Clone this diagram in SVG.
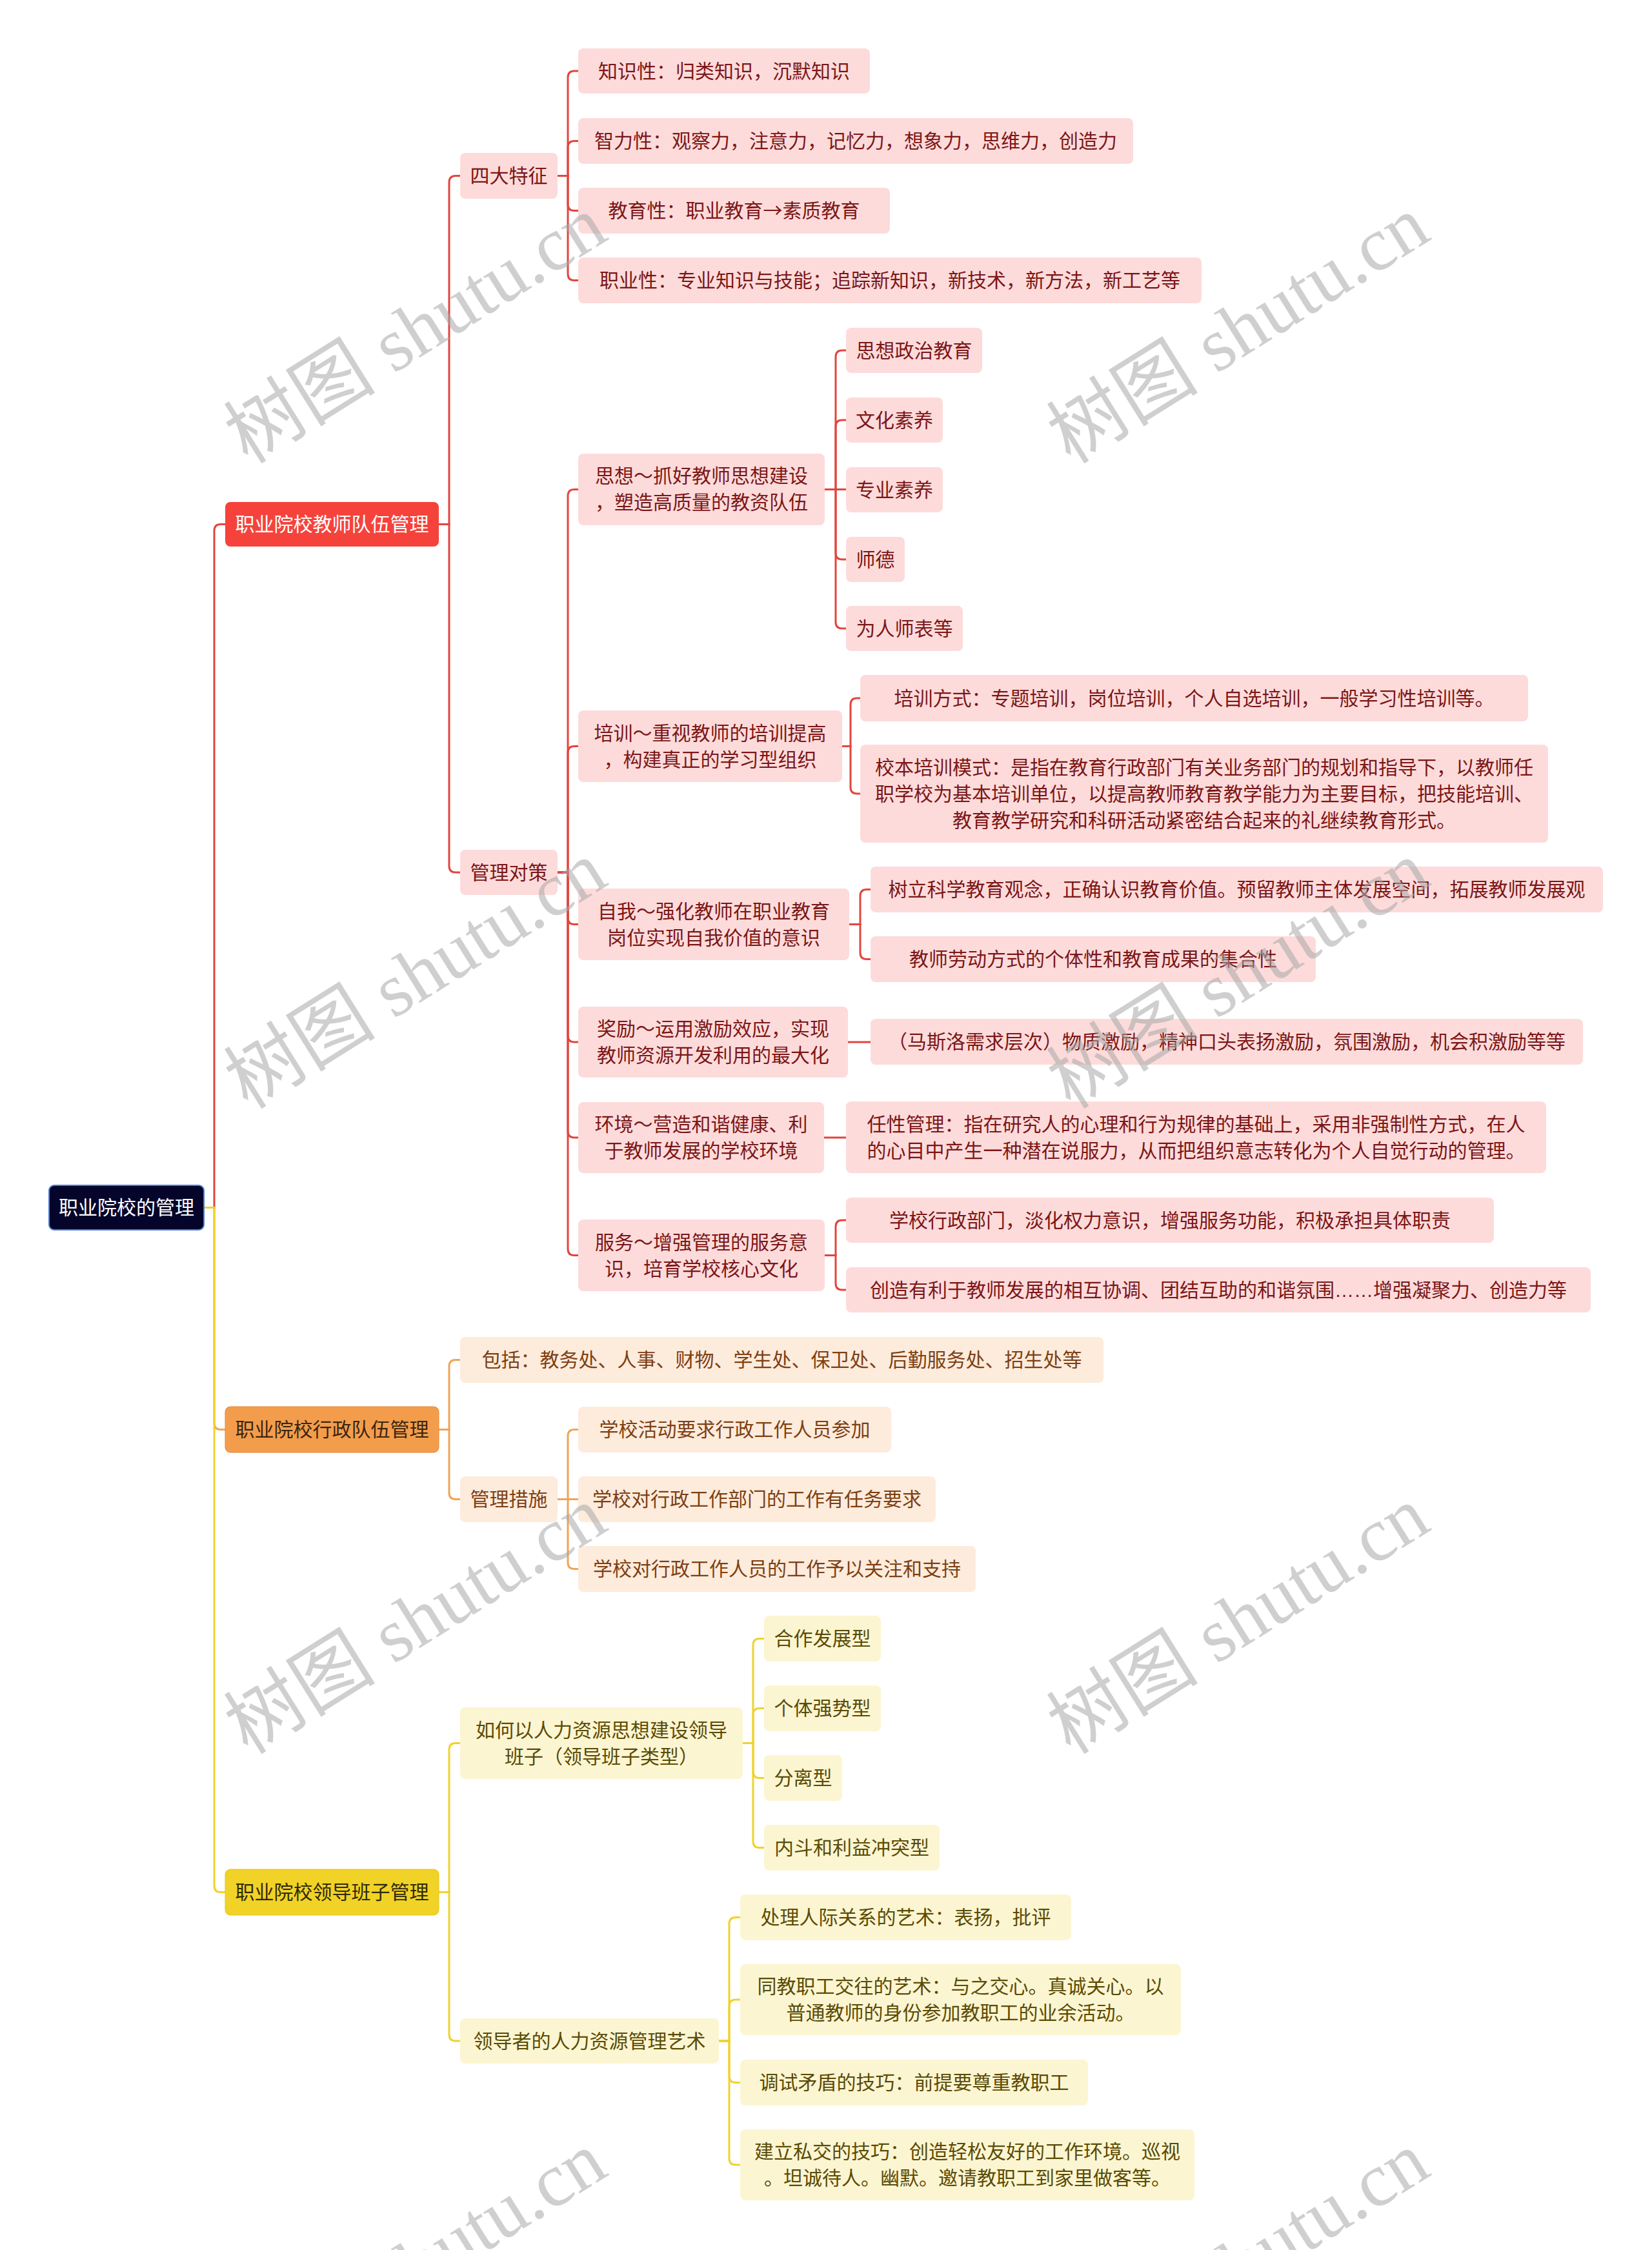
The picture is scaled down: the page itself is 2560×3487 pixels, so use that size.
<svg xmlns="http://www.w3.org/2000/svg" width="2560" height="3487" viewBox="0 0 2560 3487">
<style>
text{font-family:"Liberation Sans","Noto Sans CJK SC",sans-serif;font-size:30px;text-anchor:middle}
.cjk{font-family:"Noto Sans CJK SC",sans-serif}
.root rect{fill:#05052c;stroke:#4d7fd6;stroke-width:2}
.root text{fill:#ffffff}
.l1r rect{fill:#f5433c}
.l1r text{fill:#ffffff}
.l1o rect{fill:#f39d4c;stroke:#e8893a;stroke-width:1}
.l1o text{fill:#3a2510}
.l1y rect{fill:#f1d226;stroke:#e6c41a;stroke-width:1}
.l1y text{fill:#2f2a08}
.r rect{fill:#fddbdb}
.r text{fill:#7c1616}
.o rect{fill:#fdebdc}
.o text{fill:#7d3f12}
.y rect{fill:#fcf5d1}
.y text{fill:#5a4b05}
.cr{fill:none;stroke:#e2453f;stroke-width:3}
.co{fill:none;stroke:#f0a457;stroke-width:3}
.cy{fill:none;stroke:#f0d22c;stroke-width:3}
.wm{font-family:"Liberation Serif","Noto Sans CJK SC",serif;font-size:118px;fill:#a8a8a8;fill-opacity:0.55;text-anchor:middle}
</style>

<g id="connectors">
  <g id="c-red">
    <path class="cr" d="M316,1871.5 H332 V822.5 Q332,812.5 342,812.5 H349"/>
    <path class="cr" d="M680,812.5 H696 V282.5 Q696,272.5 706,272.5 H713"/>
    <path class="cr" d="M680,812.5 H696 V1342 Q696,1352 706,1352 H713"/>
    <path class="cr" d="M864,272.5 H880 V120 Q880,110 890,110 H896"/>
    <path class="cr" d="M864,272.5 H880 V228.5 Q880,218.5 890,218.5 H896"/>
    <path class="cr" d="M864,272.5 H880 V316.5 Q880,326.5 890,326.5 H896"/>
    <path class="cr" d="M864,272.5 H880 V424.5 Q880,434.5 890,434.5 H896"/>
    <path class="cr" d="M864,1352 H880 V768.5 Q880,758.5 890,758.5 H896"/>
    <path class="cr" d="M864,1352 H880 V1166.5 Q880,1156.5 890,1156.5 H896"/>
    <path class="cr" d="M864,1352 H880 V1422.5 Q880,1432.5 890,1432.5 H896"/>
    <path class="cr" d="M864,1352 H880 V1605 Q880,1615 890,1615 H896"/>
    <path class="cr" d="M864,1352 H880 V1753 Q880,1763 890,1763 H896"/>
    <path class="cr" d="M864,1352 H880 V1935.5 Q880,1945.5 890,1945.5 H896"/>
    <path class="cr" d="M1278,758.5 H1295 V553 Q1295,543 1305,543 H1311"/>
    <path class="cr" d="M1278,758.5 H1295 V661 Q1295,651 1305,651 H1311"/>
    <path class="cr" d="M1278,758.5 H1311"/>
    <path class="cr" d="M1278,758.5 H1295 V857 Q1295,867 1305,867 H1311"/>
    <path class="cr" d="M1278,758.5 H1295 V964 Q1295,974 1305,974 H1311"/>
    <path class="cr" d="M1305,1156.5 H1318 V1092 Q1318,1082 1328,1082 H1333"/>
    <path class="cr" d="M1305,1156.5 H1318 V1220 Q1318,1230 1328,1230 H1333"/>
    <path class="cr" d="M1316,1432.5 H1333 V1388.5 Q1333,1378.5 1343,1378.5 H1349"/>
    <path class="cr" d="M1316,1432.5 H1333 V1476.5 Q1333,1486.5 1343,1486.5 H1349"/>
    <path class="cr" d="M1314,1615 H1349"/>
    <path class="cr" d="M1277,1763 H1311"/>
    <path class="cr" d="M1278,1945.5 H1295 V1901 Q1295,1891 1305,1891 H1311"/>
    <path class="cr" d="M1278,1945.5 H1295 V1989 Q1295,1999 1305,1999 H1311"/>
  </g>
  <g id="c-orange">
    <path class="co" d="M316,1871.5 H332 V2205.5 Q332,2215.5 342,2215.5 H349"/>
    <path class="co" d="M680,2215.5 H696 V2117.5 Q696,2107.5 706,2107.5 H713"/>
    <path class="co" d="M680,2215.5 H696 V2313.5 Q696,2323.5 706,2323.5 H713"/>
    <path class="co" d="M864,2323.5 H880 V2225.5 Q880,2215.5 890,2215.5 H896"/>
    <path class="co" d="M864,2323.5 H896"/>
    <path class="co" d="M864,2323.5 H880 V2421.5 Q880,2431.5 890,2431.5 H896"/>
  </g>
  <g id="c-yellow">
    <path class="cy" d="M316,1871.5 H332 V2922.5 Q332,2932.5 342,2932.5 H349"/>
    <path class="cy" d="M680,2932.5 H696 V2711.5 Q696,2701.5 706,2701.5 H713"/>
    <path class="cy" d="M680,2932.5 H696 V3153 Q696,3163 706,3163 H713"/>
    <path class="cy" d="M1151,2701.5 H1167 V2549.5 Q1167,2539.5 1177,2539.5 H1184"/>
    <path class="cy" d="M1151,2701.5 H1167 V2657.5 Q1167,2647.5 1177,2647.5 H1184"/>
    <path class="cy" d="M1151,2701.5 H1167 V2745.5 Q1167,2755.5 1177,2755.5 H1184"/>
    <path class="cy" d="M1151,2701.5 H1167 V2853.5 Q1167,2863.5 1177,2863.5 H1184"/>
    <path class="cy" d="M1114,3163 H1130 V2981.5 Q1130,2971.5 1140,2971.5 H1147"/>
    <path class="cy" d="M1114,3163 H1130 V3109 Q1130,3099 1140,3099 H1147"/>
    <path class="cy" d="M1114,3163 H1130 V3217.5 Q1130,3227.5 1140,3227.5 H1147"/>
    <path class="cy" d="M1114,3163 H1130 V3345 Q1130,3355 1140,3355 H1147"/>
  </g>
</g>

<g id="root" class="root"><rect x="76" y="1837" width="240" height="69" rx="8"/><text x="196" y="1882">职业院校的管理</text></g>

<g id="n-teacher" class="l1r"><rect x="349" y="778" width="331" height="69" rx="8"/><text x="514.5" y="823">职业院校教师队伍管理</text></g>
<g id="n-admin" class="l1o"><rect x="349" y="2180" width="331" height="71" rx="8"/><text x="514.5" y="2226">职业院校行政队伍管理</text></g>
<g id="n-leader" class="l1y"><rect x="349" y="2897" width="331" height="71" rx="8"/><text x="514.5" y="2943">职业院校领导班子管理</text></g>

<g id="n-four" class="r"><rect x="713" y="237" width="151" height="71" rx="8"/><text x="788.5" y="283">四大特征</text></g>
<g id="n-k1" class="r"><rect x="896" y="75" width="452" height="70" rx="8"/><text x="1122" y="120.5">知识性：归类知识，沉默知识</text></g>
<g id="n-k2" class="r"><rect x="896" y="183" width="860" height="71" rx="8"/><text x="1326" y="229">智力性：观察力，注意力，记忆力，想象力，思维力，创造力</text></g>
<g id="n-k3" class="r"><rect x="896" y="291" width="483" height="71" rx="8"/><text x="1137.5" y="337">教育性：职业教育<tspan class="cjk">→</tspan>素质教育</text></g>
<g id="n-k4" class="r"><rect x="896" y="399" width="966" height="71" rx="8"/><text x="1379" y="445">职业性：专业知识与技能；追踪新知识，新技术，新方法，新工艺等</text></g>

<g id="n-measures" class="r"><rect x="713" y="1317" width="151" height="70" rx="8"/><text x="788.5" y="1362.5">管理对策</text></g>

<g id="n-thought" class="r"><rect x="896" y="703" width="382" height="111" rx="8"/><text x="1087" y="748">思想～抓好教师思想建设<tspan x="1087" dy="41">，塑造高质量的教资队伍</tspan></text></g>
<g id="n-t1" class="r"><rect x="1311" y="508" width="211" height="70" rx="8"/><text x="1416.5" y="553.5">思想政治教育</text></g>
<g id="n-t2" class="r"><rect x="1311" y="616" width="150" height="70" rx="8"/><text x="1386" y="661.5">文化素养</text></g>
<g id="n-t3" class="r"><rect x="1311" y="724" width="150" height="70" rx="8"/><text x="1386" y="769.5">专业素养</text></g>
<g id="n-t4" class="r"><rect x="1311" y="832" width="91" height="70" rx="8"/><text x="1356.5" y="877.5">师德</text></g>
<g id="n-t5" class="r"><rect x="1311" y="939" width="181" height="70" rx="8"/><text x="1401.5" y="984.5">为人师表等</text></g>

<g id="n-train" class="r"><rect x="896" y="1101" width="409" height="111" rx="8"/><text x="1100.5" y="1146.5">培训～重视教师的培训提高<tspan x="1100.5" dy="41">，构建真正的学习型组织</tspan></text></g>
<g id="n-tr1" class="r"><rect x="1333" y="1046" width="1035" height="72" rx="8"/><text x="1850.5" y="1092.5">培训方式：专题培训，岗位培训，个人自选培训，一般学习性培训等。</text></g>
<g id="n-tr2" class="r"><rect x="1333" y="1154" width="1066" height="152" rx="8"/><text x="1866" y="1199.5">校本培训模式：是指在教育行政部门有关业务部门的规划和指导下，以教师任<tspan x="1866" dy="41">职学校为基本培训单位，以提高教师教育教学能力为主要目标，把技能培训、</tspan><tspan x="1866" dy="41">教育教学研究和科研活动紧密结合起来的礼继续教育形式。</tspan></text></g>

<g id="n-self" class="r"><rect x="896" y="1377" width="420" height="111" rx="8"/><text x="1106" y="1422.5">自我～强化教师在职业教育<tspan x="1106" dy="41">岗位实现自我价值的意识</tspan></text></g>
<g id="n-s1" class="r"><rect x="1349" y="1343" width="1135" height="71" rx="8"/><text x="1916.5" y="1389">树立科学教育观念，正确认识教育价值。预留教师主体发展空间，拓展教师发展观</text></g>
<g id="n-s2" class="r"><rect x="1349" y="1451" width="690" height="71" rx="8"/><text x="1694" y="1497">教师劳动方式的个体性和教育成果的集合性</text></g>

<g id="n-reward" class="r"><rect x="896" y="1560" width="418" height="110" rx="8"/><text x="1105" y="1605">奖励～运用激励效应，实现<tspan x="1105" dy="41">教师资源开发利用的最大化</tspan></text></g>
<g id="n-rw1" class="r"><rect x="1349" y="1579" width="1104" height="71" rx="8"/><text x="1901" y="1625">（马斯洛需求层次）物质激励，精神口头表扬激励，氛围激励，机会积激励等等</text></g>

<g id="n-env" class="r"><rect x="896" y="1708" width="381" height="110" rx="8"/><text x="1086.5" y="1753">环境～营造和谐健康、利<tspan x="1086.5" dy="41">于教师发展的学校环境</tspan></text></g>
<g id="n-e1" class="r"><rect x="1311" y="1707" width="1085" height="111" rx="8"/><text x="1853.5" y="1752.5">任性管理：指在研究人的心理和行为规律的基础上，采用非强制性方式，在人<tspan x="1853.5" dy="41">的心目中产生一种潜在说服力，从而把组织意志转化为个人自觉行动的管理。</tspan></text></g>

<g id="n-serve" class="r"><rect x="896" y="1890" width="382" height="111" rx="8"/><text x="1087" y="1935.5">服务～增强管理的服务意<tspan x="1087" dy="41">识，培育学校核心文化</tspan></text></g>
<g id="n-sv1" class="r"><rect x="1311" y="1856" width="1004" height="70" rx="8"/><text x="1813" y="1901.5">学校行政部门，淡化权力意识，增强服务功能，积极承担具体职责</text></g>
<g id="n-sv2" class="r"><rect x="1311" y="1964" width="1154" height="70" rx="8"/><text x="1888" y="2009.5">创造有利于教师发展的相互协调、团结互助的和谐氛围……增强凝聚力、创造力等</text></g>

<g id="n-include" class="o"><rect x="713" y="2072" width="997" height="71" rx="8"/><text x="1211.5" y="2118">包括：教务处、人事、财物、学生处、保卫处、后勤服务处、招生处等</text></g>
<g id="n-admmeasure" class="o"><rect x="713" y="2288" width="151" height="71" rx="8"/><text x="788.5" y="2334">管理措施</text></g>
<g id="n-a1" class="o"><rect x="896" y="2180" width="485" height="71" rx="8"/><text x="1138.5" y="2226">学校活动要求行政工作人员参加</text></g>
<g id="n-a2" class="o"><rect x="896" y="2288" width="554" height="71" rx="8"/><text x="1173" y="2334">学校对行政工作部门的工作有任务要求</text></g>
<g id="n-a3" class="o"><rect x="896" y="2396" width="616" height="71" rx="8"/><text x="1204" y="2442">学校对行政工作人员的工作予以关注和支持</text></g>

<g id="n-how" class="y"><rect x="713" y="2646" width="438" height="111" rx="8"/><text x="932" y="2691.5">如何以人力资源思想建设领导<tspan x="932" dy="41">班子（领导班子类型）</tspan></text></g>
<g id="n-h1" class="y"><rect x="1184" y="2504" width="181" height="71" rx="8"/><text x="1274.5" y="2550">合作发展型</text></g>
<g id="n-h2" class="y"><rect x="1184" y="2612" width="181" height="71" rx="8"/><text x="1274.5" y="2658">个体强势型</text></g>
<g id="n-h3" class="y"><rect x="1184" y="2720" width="121" height="71" rx="8"/><text x="1244.5" y="2766">分离型</text></g>
<g id="n-h4" class="y"><rect x="1184" y="2828" width="272" height="71" rx="8"/><text x="1320" y="2874">内斗和利益冲突型</text></g>

<g id="n-art" class="y"><rect x="713" y="3128" width="401" height="70" rx="8"/><text x="913.5" y="3173.5">领导者的人力资源管理艺术</text></g>
<g id="n-ar1" class="y"><rect x="1147" y="2936" width="513" height="71" rx="8"/><text x="1403.5" y="2982">处理人际关系的艺术：表扬，批评</text></g>
<g id="n-ar2" class="y"><rect x="1147" y="3044" width="683" height="110" rx="8"/><text x="1488.5" y="3089">同教职工交往的艺术：与之交心。真诚关心。以<tspan x="1488.5" dy="41">普通教师的身份参加教职工的业余活动。</tspan></text></g>
<g id="n-ar3" class="y"><rect x="1147" y="3192" width="539" height="71" rx="8"/><text x="1416.5" y="3238">调试矛盾的技巧：前提要尊重教职工</text></g>
<g id="n-ar4" class="y"><rect x="1147" y="3300" width="704" height="110" rx="8"/><text x="1499" y="3345">建立私交的技巧：创造轻松友好的工作环境。巡视<tspan x="1499" dy="41">。坦诚待人。幽默。邀请教职工到家里做客等。</tspan></text></g>

<g id="watermarks">
  <text class="wm" transform="translate(665,545) rotate(-32)">树图 shutu.cn</text>
  <text class="wm" transform="translate(1940,545) rotate(-32)">树图 shutu.cn</text>
  <text class="wm" transform="translate(665,1545) rotate(-32)">树图 shutu.cn</text>
  <text class="wm" transform="translate(1940,1545) rotate(-32)">树图 shutu.cn</text>
  <text class="wm" transform="translate(665,2545) rotate(-32)">树图 shutu.cn</text>
  <text class="wm" transform="translate(1940,2545) rotate(-32)">树图 shutu.cn</text>
  <text class="wm" transform="translate(665,3545) rotate(-32)">树图 shutu.cn</text>
  <text class="wm" transform="translate(1940,3545) rotate(-32)">树图 shutu.cn</text>
</g>
</svg>
